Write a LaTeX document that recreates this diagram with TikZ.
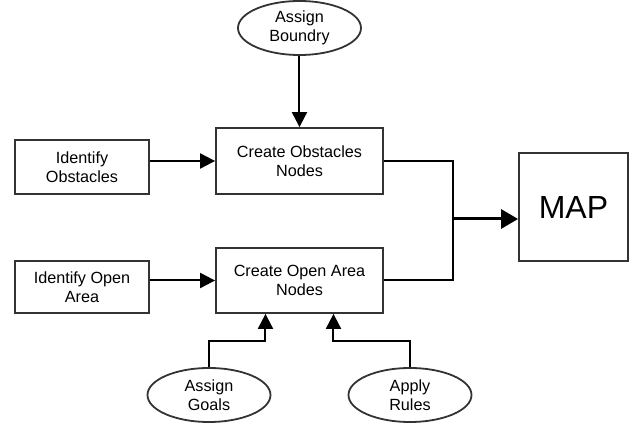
\documentclass[tikz,border=0pt]{standalone}
\usepackage{fontspec}
\setmainfont{Liberation Sans}
\usepackage{xcolor}
\usepackage{tikz}
\usetikzlibrary{arrows.meta,positioning,shapes.geometric}

\begin{document}
\begin{tikzpicture}[->,>={Triangle[length=15pt,width=15pt]},line width=2pt,node distance=217.5pt,
	box/.style={rectangle,draw=black!80,line width=1.8pt,inner sep=0pt,align=center,font=\fontsize{16.2pt}{18.5pt}\selectfont},
	oval/.style={ellipse,draw=black!80,line width=1.8pt,minimum width=123pt,minimum height=54pt,inner sep=0pt,align=center,font=\fontsize{16.2pt}{18.5pt}\selectfont}]
		\useasboundingbox (-299.5pt,161pt) rectangle (333.5pt,-267pt);
		\node[box,minimum width=167pt,minimum height=66pt] (CO) {Create Obstacles\\Nodes};
		\node[box,minimum width=167pt,minimum height=65pt] (CA)[node distance=119.5pt,below of=CO] {Create Open Area\\Nodes};
		\node[box,minimum width=134pt,minimum height=54pt] (IO)[left of=CO,yshift=-6pt] {Identify\\Obstacles};
		\node[box,minimum width=134pt,minimum height=52pt] (IA)[left of=CA,yshift=-6.5pt] {Identify Open\\Area};
		\node[oval] (AB)[node distance=133pt,above of=CO] {Assign\\Boundry};
		\node[oval] (AG)[node distance=114.5pt,below of=CA,xshift=-90.5pt] {Assign\\Goals};
		\node[oval] (AR)[node distance=201pt,right of=AG] {Apply\\Rules};
		\node[box,minimum width=109pt,minimum height=108pt,font=\fontsize{32pt}{36pt}\selectfont] (M)[node distance=274pt,right of=CO,yshift=-46pt] {MAP};
		\coordinate (J) at ([xshift=69pt,yshift=-58pt]CO.east);
		\draw (AB) -- (CO);
		\draw (CO.west -| IO.east) -- (CO.west);
		\draw (CA.west -| IA.east) -- (CA.west);
		\draw[-] (CO.east) -| (J) |- (CA.east);
		\draw[line width=3pt,>={Triangle[length=17pt,width=19pt]}] (J) -- (J -| M.west);
		\draw (AG) |- ([xshift=-34pt,yshift=-27pt]CA.south) -- ([xshift=-34pt]CA.south);
		\draw (AR) |- ([xshift=34pt,yshift=-27pt]CA.south) -- ([xshift=34pt]CA.south);
	\end{tikzpicture}
\end{document}
